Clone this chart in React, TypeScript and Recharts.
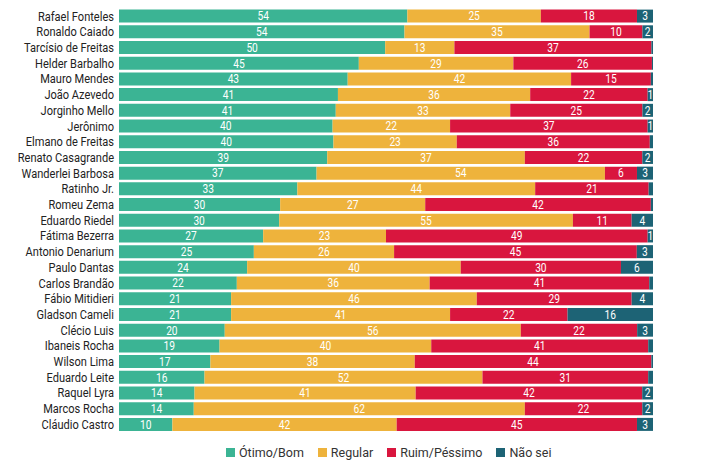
import React from "react"
import { BarChart, Bar, XAxis, YAxis, Legend, LabelList } from "recharts"

// Governadores, avaliação (%)
const nomes = [
  "Rafael Fonteles", "Ronaldo Caiado", "Tarcísio de Freitas", "Helder Barbalho",
  "Mauro Mendes", "João Azevedo", "Jorginho Mello", "Jerônimo", "Elmano de Freitas",
  "Renato Casagrande", "Wanderlei Barbosa", "Ratinho Jr.", "Romeu Zema",
  "Eduardo Riedel", "Fátima Bezerra", "Antonio Denarium", "Paulo Dantas",
  "Carlos Brandão", "Fábio Mitidieri", "Gladson Cameli", "Clécio Luis",
  "Ibaneis Rocha", "Wilson Lima", "Eduardo Leite", "Raquel Lyra", "Marcos Rocha",
  "Cláudio Castro",
]
const otimoBom = [54, 54, 50, 45, 43, 41, 41, 40, 40, 39, 37, 33, 30, 30, 27, 25, 24, 22, 21, 21, 20, 19, 17, 16, 14, 14, 10]
const regular = [25, 35, 13, 29, 42, 36, 33, 22, 23, 37, 54, 44, 27, 55, 23, 26, 40, 36, 46, 41, 56, 40, 38, 52, 41, 62, 42]
const ruimPessimo = [18, 10, 37, 26, 15, 22, 25, 37, 36, 22, 6, 21, 42, 11, 49, 45, 30, 41, 29, 22, 22, 41, 44, 31, 42, 22, 45]
const naoSei = [3, 2, 0.3, 0.2, 0.4, 1, 2, 1, 0.6, 2, 3, 0.8, 0.4, 4, 1, 3, 6, 0.7, 4, 16, 3, 0.9, 0.3, 0.9, 2, 2, 3]

const series = [
  { key: "otimo", name: "Ótimo/Bom", color: "#3bb494", values: otimoBom },
  { key: "regular", name: "Regular", color: "#eeb33c", values: regular },
  { key: "ruim", name: "Ruim/Péssimo", color: "#d9163e", values: ruimPessimo },
  { key: "naosei", name: "Não sei", color: "#1d6375", values: naoSei },
]

const data = nomes.map((nome, i) => {
  const row: Record<string, string | number> = { nome }
  series.forEach((s) => (row[s.key] = s.values[i]))
  return row
})

// nome do governador, fonte "condensada" via escala horizontal
const NomeTick = (props: any) => {
  const { x, y, payload } = props
  return (
    <text
      transform={`translate(${x},${y}) scale(0.82,1)`}
      textAnchor="end"
      dy="0.35em"
      fill="#222"
      fontSize={13.5}
      fontFamily="Roboto, sans-serif"
    >
      {payload.value}
    </text>
  )
}

const Valor = (props: any) => {
  const { x, y, width, height, value } = props
  if (value < 1) return null
  const cx = x + width / 2
  const cy = y + height / 2
  return (
    <text
      transform={`translate(${cx},${cy}) scale(0.85,1)`}
      textAnchor="middle"
      dy="0.36em"
      fill="#fff"
      fontSize={12}
      fontFamily="Roboto, sans-serif"
    >
      {value}
    </text>
  )
}

function LegendaCustom() {
  return (
    <div style={{ display: "flex", fontFamily: "Roboto, sans-serif", fontSize: 12.5, color: "#333" }}>
      {series.map((s) => (
        <div key={s.key} style={{ display: "flex", alignItems: "center", marginRight: 14 }}>
          <span style={{ width: 9, height: 9, background: s.color, display: "inline-block", marginRight: 4 }} />
          <span>{s.name}</span>
        </div>
      ))}
    </div>
  )
}

export default function App() {
  return (
    <div style={{ margin: -8, width: 710, height: 472, background: "#fff", position: "relative" }}>
      <BarChart
        width={710}
        height={472}
        data={data}
        layout="vertical"
        stackOffset="expand"
        barCategoryGap={1.6}
        margin={{ top: 8, right: 57, bottom: 25, left: 0 }}
      >
        <XAxis type="number" hide domain={[0, 1]} />
        <YAxis
          type="category"
          dataKey="nome"
          width={119}
          axisLine={false}
          tickLine={false}
          tickSize={3}
          tickMargin={2}
          interval={0}
          tick={<NomeTick />}
        />
        <Legend
          content={<LegendaCustom />}
          wrapperStyle={{ position: "absolute", top: 445, left: 226, width: "auto" }}
          height={0}
        />
        {series.map((s) => (
          <Bar key={s.key} dataKey={s.key} name={s.name} stackId="a" fill={s.color} isAnimationActive={false}>
            <LabelList dataKey={s.key} content={<Valor />} />
          </Bar>
        ))}
      </BarChart>
    </div>
  )
}
